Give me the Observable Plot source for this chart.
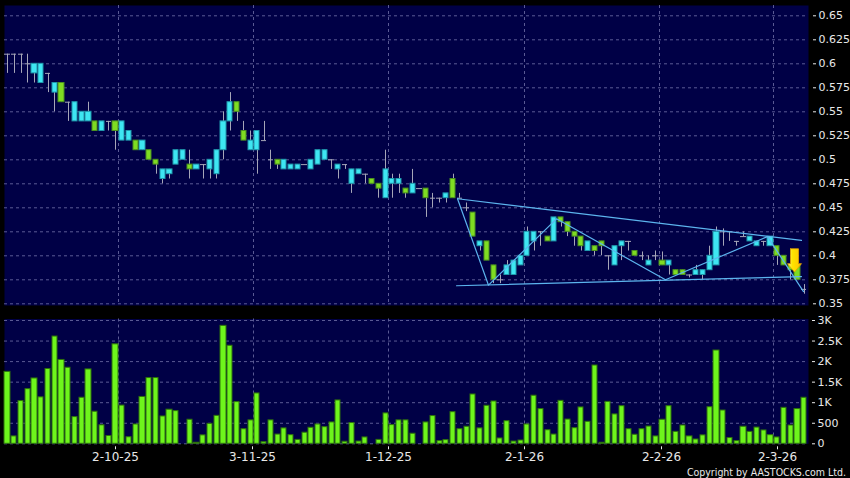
<!DOCTYPE html>
<html><head><meta charset="utf-8">
<script src="https://cdn.jsdelivr.net/npm/d3@7"></script>
<script src="https://cdn.jsdelivr.net/npm/@observablehq/plot@0.6"></script>
<style>
html,body{margin:0;padding:0;background:#000;width:850px;height:478px;overflow:hidden;position:relative;}
#chart svg{display:block;}
#copy{position:absolute;right:4px;top:466px;line-height:11px;color:#e8e8e8;font:10.5px "DejaVu Sans Condensed","DejaVu Sans",sans-serif;white-space:nowrap;}
</style></head><body>
<div id="chart"></div>
<div id="copy">Copyright by AASTOCKS.com Ltd.</div>
<script>
// ---- data ----
const openP = [0.61,0.61,0.61,0.6,0.59,0.58,0.59,0.57,0.58,0.56,
0.54,0.54,0.54,0.54,0.53,0.54,0.54,0.52,0.52,0.52,
0.51,0.51,0.5,0.48,0.485,0.495,0.5,0.495,0.49,0.495,
0.49,0.485,0.51,0.54,0.56,0.53,0.51,0.51,0.52,0.5,
0.5,0.49,0.49,0.49,0.495,0.49,0.495,0.5,0.5,0.49,
0.495,0.475,0.485,0.485,0.48,0.475,0.46,0.475,0.475,0.47,
0.465,0.47,0.47,0.46,0.46,0.46,0.48,0.46,0.45,0.445,
0.41,0.415,0.39,0.375,0.38,0.38,0.39,0.4,0.415,0.425,
0.42,0.415,0.44,0.435,0.425,0.42,0.405,0.41,0.415,0.4,
0.39,0.41,0.415,0.405,0.4,0.39,0.4,0.395,0.39,0.385,
0.385,0.38,0.38,0.38,0.385,0.39,0.425,0.425,0.415,0.42,
0.415,0.41,0.415,0.41,0.41,0.4,0.39,0.39,0.365];
const closeP = [0.61,0.61,0.61,0.6,0.6,0.6,0.59,0.58,0.56,0.56,
0.56,0.55,0.55,0.53,0.54,0.54,0.53,0.54,0.53,0.51,
0.52,0.5,0.495,0.49,0.49,0.51,0.51,0.49,0.495,0.495,
0.5,0.51,0.54,0.56,0.55,0.52,0.52,0.53,0.52,0.5,
0.495,0.5,0.495,0.495,0.495,0.5,0.51,0.51,0.5,0.495,
0.495,0.49,0.49,0.485,0.475,0.47,0.49,0.48,0.48,0.465,
0.475,0.47,0.46,0.46,0.46,0.465,0.46,0.46,0.45,0.42,
0.415,0.395,0.375,0.375,0.39,0.395,0.4,0.425,0.425,0.425,
0.415,0.44,0.435,0.425,0.42,0.41,0.415,0.405,0.41,0.4,
0.41,0.415,0.415,0.4,0.4,0.395,0.4,0.39,0.395,0.38,
0.38,0.38,0.385,0.385,0.4,0.425,0.425,0.425,0.415,0.42,
0.42,0.415,0.415,0.42,0.4,0.39,0.385,0.375,0.365];
const highP = [0.61,0.61,0.61,0.61,0.6,0.6,0.59,0.58,0.58,0.56,
0.56,0.55,0.56,0.54,0.54,0.54,0.54,0.54,0.53,0.52,
0.52,0.51,0.5,0.49,0.49,0.51,0.51,0.51,0.495,0.495,
0.5,0.51,0.55,0.57,0.56,0.54,0.53,0.53,0.54,0.51,
0.5,0.5,0.495,0.495,0.495,0.5,0.51,0.51,0.5,0.495,
0.495,0.49,0.49,0.485,0.48,0.475,0.51,0.485,0.485,0.47,
0.49,0.47,0.47,0.465,0.46,0.465,0.485,0.465,0.455,0.445,
0.415,0.415,0.39,0.38,0.395,0.395,0.4,0.43,0.425,0.425,
0.42,0.44,0.44,0.435,0.425,0.42,0.415,0.41,0.415,0.4,
0.41,0.415,0.415,0.405,0.404,0.4,0.405,0.404,0.395,0.385,
0.385,0.38,0.39,0.385,0.41,0.43,0.428,0.425,0.415,0.425,
0.42,0.415,0.415,0.42,0.41,0.4,0.39,0.39,0.37];
const lowP = [0.59,0.59,0.59,0.58,0.58,0.58,0.57,0.55,0.56,0.54,
0.54,0.54,0.54,0.53,0.53,0.53,0.51,0.52,0.52,0.51,
0.51,0.5,0.485,0.475,0.48,0.495,0.5,0.48,0.49,0.48,
0.48,0.48,0.5,0.53,0.54,0.52,0.51,0.485,0.52,0.49,
0.49,0.49,0.49,0.49,0.495,0.49,0.495,0.5,0.49,0.48,
0.49,0.465,0.485,0.475,0.475,0.46,0.46,0.46,0.465,0.46,
0.465,0.47,0.44,0.45,0.455,0.455,0.46,0.46,0.446,0.42,
0.405,0.395,0.371,0.371,0.38,0.38,0.39,0.4,0.405,0.41,
0.415,0.415,0.43,0.42,0.41,0.405,0.405,0.4,0.4,0.385,
0.39,0.395,0.405,0.4,0.395,0.39,0.395,0.39,0.38,0.38,
0.38,0.377,0.38,0.375,0.385,0.39,0.41,0.415,0.41,0.42,
0.415,0.41,0.41,0.41,0.39,0.39,0.375,0.375,0.36];
const volume = [1750,180,1040,1330,1590,1130,1820,2610,2040,1850,
650,1120,1810,780,450,190,2420,930,160,470,
1140,1600,1600,665,830,795,0,585,25,205,
485,680,2870,2385,1015,355,570,1225,40,570,
225,375,210,95,270,390,470,405,520,1055,
50,505,55,155,0,95,740,455,570,570,
245,0,520,675,65,90,770,355,415,1200,
375,925,1030,130,550,55,80,470,1170,845,
330,225,1045,590,380,885,535,1905,25,1020,
715,915,355,220,355,420,180,585,915,290,
445,180,105,205,890,2270,810,140,65,415,
290,395,325,210,155,875,445,845,1120];

const priceTicks = [0.35,0.375,0.4,0.425,0.45,0.475,0.5,0.525,0.55,0.575,0.6,0.625,0.65];
const volTicks = [0,500,1000,1500,2000,2500,3000];
const volLabels = ["0","500","1K","1.5K","2K","2.5K","3K"];
const dateTickIdx = [16,36.3,56.5,76.6,96.9,114];
const dateLabels = ["2-10-25","3-11-25","1-12-25","2-1-26","2-2-26","2-3-26"];
const gridIdx = [16.5,36.5,56.5,76.5,96.5,113.5];

// trend lines drawn on the chart (index, price)
const upperLineI = [66.6,117.6];     const upperLineP = [0.4594,0.416];
const lowerLineI = [66.5,117.6];     const lowerLineP = [0.3688,0.3784];
const zigzagI = [66.6,71.3,81.3,97.5,112.5,117.9];
const zigzagP = [0.4594,0.3694,0.4385,0.375,0.420,0.3627];
// down-arrow signal: index, top price, tip price
const arrowI = 116.55, arrowTop = 0.4073, arrowTip = 0.3831;

// ---- build ----
const NAVY = "#000046", GRID = "#5a5a94", WICK = "#a6a6b8", TXT = "#e8e8e8";
const candles = openP.map((o,i)=>({i, open:o, close:closeP[i], high:highP[i], low:lowP[i], vol:volume[i]}));
const ups = candles.filter(d=>d.close>d.open);
const downs = candles.filter(d=>d.close<d.open);
const dojis = candles.filter(d=>d.close===d.open);
const toPts = (I,P)=>I.map((x,k)=>({i:x,p:P[k]}));
const BW = 0.38, DW = 0.4;
const xDomain = [-0.444, 118.632];

const arrowPts = (()=>{
  const base = arrowTop - (arrowTop-arrowTip)*0.64;
  const s = 0.6, h = 1.1, c = arrowI;
  return [[c-s,arrowTop],[c+s,arrowTop],[c+s,base],[c+h,base],[c,arrowTip],[c-h,base],[c-s,base],[c-s,arrowTop]].map(([i,p])=>({i,p}));
})();

const price = Plot.plot({
  width:850, height:310, marginLeft:4, marginRight:42, marginTop:5, marginBottom:5,
  style:{background:"none", color:TXT, overflow:"visible"},
  x:{domain:xDomain, axis:null, round:true},
  y:{domain:[0.34823,0.66073], axis:null},
  marks:[
    Plot.frame({fill:NAVY}),
    Plot.ruleY(priceTicks,{stroke:GRID, strokeDasharray:"3,3"}),
    Plot.ruleX(gridIdx,{stroke:GRID, strokeDasharray:"3,3"}),
    Plot.ruleX(candles,{x:"i", y1:"low", y2:"high", stroke:WICK}),
    Plot.ruleY(dojis,{y:"open", x1:d=>d.i-DW, x2:d=>d.i+DW, stroke:WICK}),
    Plot.rect(ups,{x1:d=>d.i-BW, x2:d=>d.i+BW, y1:"open", y2:"close", fill:"#3ee6f2", stroke:"#1f98ac"}),
    Plot.rect(downs,{x1:d=>d.i-BW, x2:d=>d.i+BW, y1:"open", y2:"close", fill:"#7fdc22", stroke:"#4a9020"}),
    Plot.line(toPts(upperLineI,upperLineP),{x:"i", y:"p", stroke:"#5cb4ee", strokeWidth:1.2}),
    Plot.line(toPts(lowerLineI,lowerLineP),{x:"i", y:"p", stroke:"#5cb4ee", strokeWidth:1.2}),
    Plot.line(toPts(zigzagI,zigzagP),{x:"i", y:"p", stroke:"#5cb4ee", strokeWidth:1.2}),
    Plot.line(arrowPts,{x:"i", y:"p", fill:"url(#arrowGrad)", stroke:"#e6a200", strokeWidth:0.8}),
    Plot.axisY(priceTicks,{anchor:"right", label:null, tickSize:3, tickPadding:3, dx:4, tickFormat:d=>String(d), fontSize:11, fontFamily:"DejaVu Sans", fill:TXT, stroke:TXT})
  ]
});
d3.select(price).insert("defs",":first-child").html(
  '<linearGradient id="arrowGrad" x1="0" x2="1" y1="0" y2="0">'+
  '<stop offset="0" stop-color="#fff488"/><stop offset="0.35" stop-color="#ffe400"/><stop offset="0.75" stop-color="#ffd000"/><stop offset="1" stop-color="#f0a000"/></linearGradient>');

const vol = Plot.plot({
  width:850, height:168, marginLeft:4, marginRight:42, marginTop:8.5, marginBottom:34.7,
  style:{background:"none", color:TXT, overflow:"visible"},
  x:{domain:xDomain, axis:null, round:true},
  y:{domain:[0,3036.5], axis:null},
  marks:[
    Plot.frame({fill:NAVY}),
    Plot.ruleY(volTicks,{stroke:GRID, strokeDasharray:"3,3"}),
    Plot.ruleX(gridIdx,{stroke:GRID, strokeDasharray:"3,3"}),
    Plot.rect(candles.filter(d=>d.vol>0),{x1:d=>d.i-BW, x2:d=>d.i+BW, y1:0, y2:"vol", fill:"#6ef51c", stroke:"#2e720c"}),
    Plot.axisY(volTicks,{anchor:"right", label:null, tickSize:3, tickPadding:3, dx:3, tickFormat:d=>volLabels[volTicks.indexOf(d)], fontSize:11, fontFamily:"DejaVu Sans", fill:TXT, stroke:TXT}),
    Plot.axisX(dateTickIdx,{anchor:"bottom", label:null, tickSize:3, tickPadding:3, dy:3, tickFormat:d=>dateLabels[dateTickIdx.indexOf(d)], fontSize:12, fontFamily:"DejaVu Sans", fill:TXT, stroke:TXT})
  ]
});
const host = document.getElementById("chart");
host.appendChild(price);
host.appendChild(vol);
</script>
</body></html>
